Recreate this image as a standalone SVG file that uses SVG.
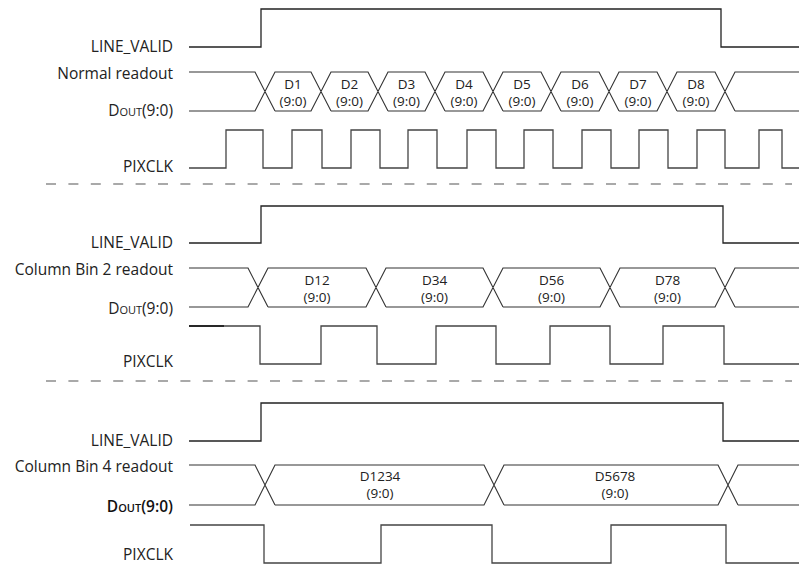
<svg xmlns="http://www.w3.org/2000/svg" width="799" height="565" viewBox="0 0 799 565">
<style>
  .lbl { font-family: "Open Sans", "Noto Sans", "Liberation Sans", sans-serif; font-size: 15.5px; fill: #222; text-anchor: end; }
  .dl { font-family: "Open Sans", "Noto Sans", "Liberation Sans", sans-serif; font-size: 13.5px; fill: #222; text-anchor: middle; }
  .sub { font-size: 11px; }
  .sig { fill: none; stroke: #222; stroke-width: 1.3; }
  .clk { fill: none; stroke: #444; stroke-width: 1.3; }
  .bus { fill: none; stroke: #333; stroke-width: 1.1; }
  .dash { fill: none; stroke: #555; stroke-width: 1.2; stroke-dasharray: 10 12.4; }
</style>
<rect width="799" height="565" fill="#fff"/>

<g id="separators">
  <line class="dash" x1="46" y1="184" x2="792" y2="184"/>
  <line class="dash" x1="46" y1="381" x2="792" y2="381"/>
</g>

<!-- Section 1: Normal readout -->
<g id="normal-line-valid">
  <text class="lbl" x="173" y="52">LINE_VALID</text>
  <path class="sig" d="M189,47 H261 V9 H721 V47 H799"/>
</g>
<g id="normal-dout">
  <text class="lbl" x="173" y="79">Normal readout</text>
  <text class="lbl" x="173" y="116">D<tspan class="sub">OUT</tspan>(9:0)</text>
  <path class="bus" d="M189,72 H255 L275,111 M189,111 H255 L275,72
    H311 L331,111 M275,111 H311 L331,72
    H368 L388,111 M331,111 H368 L388,72
    H425 L445,111 M388,111 H425 L445,72
    H483 L503,111 M445,111 H483 L503,72
    H541 L561,111 M503,111 H541 L561,72
    H599 L619,111 M561,111 H599 L619,72
    H657 L677,111 M619,111 H657 L677,72
    H715 L735,111 M677,111 H715 L735,72 H799 M735,111 H799"/>
  <text class="dl" x="293" y="89">D1</text><text class="dl" x="293" y="106">(9:0)</text>
  <text class="dl" x="349.5" y="89">D2</text><text class="dl" x="349.5" y="106">(9:0)</text>
  <text class="dl" x="406.5" y="89">D3</text><text class="dl" x="406.5" y="106">(9:0)</text>
  <text class="dl" x="464" y="89">D4</text><text class="dl" x="464" y="106">(9:0)</text>
  <text class="dl" x="522" y="89">D5</text><text class="dl" x="522" y="106">(9:0)</text>
  <text class="dl" x="580" y="89">D6</text><text class="dl" x="580" y="106">(9:0)</text>
  <text class="dl" x="638" y="89">D7</text><text class="dl" x="638" y="106">(9:0)</text>
  <text class="dl" x="696" y="89">D8</text><text class="dl" x="696" y="106">(9:0)</text>
</g>
<g id="normal-pixclk">
  <text class="lbl" x="173" y="172">PIXCLK</text>
  <path class="clk" d="M189,168 H226 V130 H263 V168 H292 V130 H322 V168 H351 V130 H380 V168 H408 V130 H437 V168 H467 V130 H496 V168 H524 V130 H553 V168 H582 V130 H611 V168 H639 V130 H668 V168 H697 V130 H725 V168 H759 V130 H782 V168 H799"/>
</g>

<!-- Section 2: Column Bin 2 -->
<g id="bin2-line-valid">
  <text class="lbl" x="173" y="248">LINE_VALID</text>
  <path class="sig" d="M189,243 H261 V206 H723 V243 H799"/>
</g>
<g id="bin2-dout">
  <text class="lbl" x="173" y="275">Column Bin 2 readout</text>
  <text class="lbl" x="173" y="314">D<tspan class="sub">OUT</tspan>(9:0)</text>
  <path class="bus" d="M189,268 H248 L268,307 M189,307 H248 L268,268
    H366 L386,307 M268,307 H366 L386,268
    H483 L503,307 M386,307 H483 L503,268
    H600 L620,307 M503,307 H600 L620,268
    H715 L735,307 M620,307 H715 L735,268 H799 M735,307 H799"/>
  <text class="dl" x="317" y="285">D12</text><text class="dl" x="317" y="302">(9:0)</text>
  <text class="dl" x="434.5" y="285">D34</text><text class="dl" x="434.5" y="302">(9:0)</text>
  <text class="dl" x="551.5" y="285">D56</text><text class="dl" x="551.5" y="302">(9:0)</text>
  <text class="dl" x="667.5" y="285">D78</text><text class="dl" x="667.5" y="302">(9:0)</text>
</g>
<g id="bin2-pixclk">
  <text class="lbl" x="173" y="367">PIXCLK</text>
  <path class="clk" d="M189,326 H260 V364 H321 V326 H377 V364 H436 V326 H496 V364 H550 V326 H610 V364 H663 V326 H724 V364 H799"/>
  <line x1="189" y1="326" x2="224" y2="326" stroke="#111" stroke-width="1.4"/>
</g>

<!-- Section 3: Column Bin 4 -->
<g id="bin4-line-valid">
  <text class="lbl" x="173" y="446">LINE_VALID</text>
  <path class="sig" d="M189,441 H261 V403 H723 V441 H799"/>
</g>
<g id="bin4-dout">
  <text class="lbl" x="173" y="472">Column Bin 4 readout</text>
  <text class="lbl" x="173" y="512" style="font-weight:600;fill:#111">D<tspan class="sub">OUT</tspan>(9:0)</text>
  <path class="bus" d="M189,465 H255 L275,505 M189,505 H255 L275,465
    H484 L504,505 M275,505 H484 L504,465
    H718 L738,505 M504,505 H718 L738,465 H799 M738,505 H799"/>
  <text class="dl" x="380" y="481">D1234</text><text class="dl" x="380" y="498">(9:0)</text>
  <text class="dl" x="615" y="481">D5678</text><text class="dl" x="615" y="498">(9:0)</text>
</g>
<g id="bin4-pixclk">
  <text class="lbl" x="173" y="560">PIXCLK</text>
  <path class="clk" d="M190,525 H264 V563 H381 V525 H492 V563 H611 V525 H726 V563 H799"/>
</g>
</svg>
